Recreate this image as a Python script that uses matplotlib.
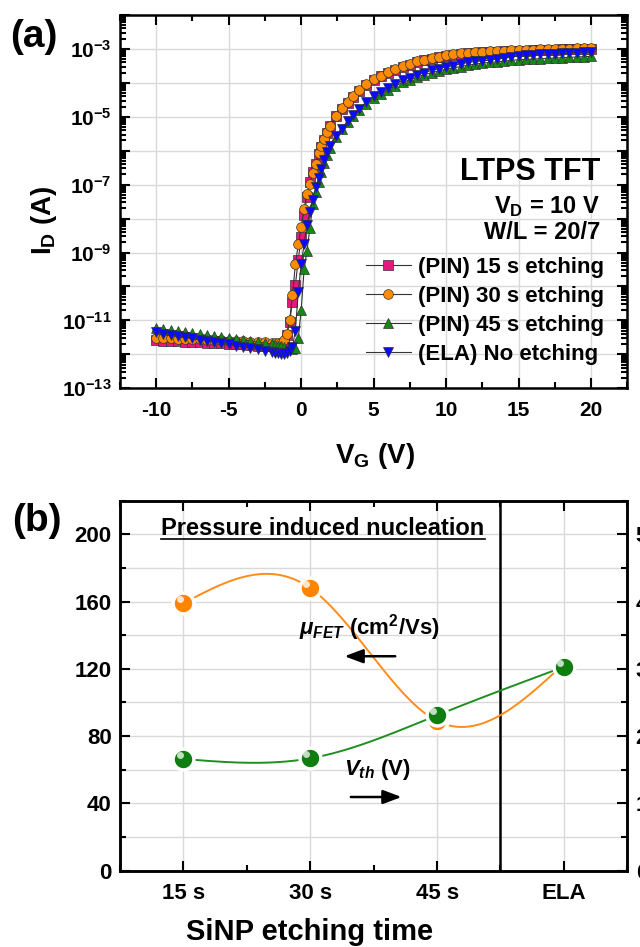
import numpy as np
import matplotlib
matplotlib.use('Agg')
import matplotlib.pyplot as plt
from matplotlib.ticker import LogLocator, FuncFormatter, MultipleLocator, NullFormatter
from matplotlib.transforms import ScaledTranslation, IdentityTransform
from matplotlib.lines import Line2D

plt.rcParams['font.family'] = ['Liberation Sans', 'DejaVu Sans']
plt.rcParams['font.weight'] = 'bold'
plt.rcParams['mathtext.fontset'] = 'custom'
plt.rcParams['mathtext.rm'] = 'Liberation Sans:bold'
plt.rcParams['mathtext.it'] = 'Liberation Sans:bold:italic'
plt.rcParams['mathtext.bf'] = 'Liberation Sans:bold'
plt.rcParams['mathtext.default'] = 'regular'
plt.rcParams['axes.unicode_minus'] = False

# ---- panel (a) : transfer curves, log10(I_D) ----
VG = [-10, -9.5, -9, -8.5, -8, -7.5, -7, -6.5, -6, -5.5, -5, -4.5, -4, -3.5, -3, -2.5, -2,
      -1.8, -1.6, -1.4, -1.2, -1.0, -0.8, -0.6, -0.4, -0.2, 0, 0.2, 0.4, 0.6, 0.8,
      1.0, 1.2, 1.4, 1.6, 1.8, 2.0,
      2.4, 2.8, 3.2, 3.6, 4.0,
      4.5, 5, 5.5, 6, 6.5, 7, 7.5, 8, 8.5, 9, 9.5, 10, 10.5, 11, 11.5, 12,
      12.5, 13, 13.5, 14, 14.5, 15, 15.5, 16, 16.5, 17, 17.5, 18, 18.5, 19, 19.5, 20]

logI_15s = [-11.59, -11.60, -11.61, -11.62, -11.63, -11.64, -11.65, -11.66, -11.67, -11.68,
            -11.69, -11.70, -11.71, -11.72, -11.74, -11.75, -11.76,
            -11.77, -11.78, -11.76, -11.66, -11.42, -11.05, -10.45, -9.95, -9.21, -8.54,
            -7.90, -7.36, -6.92, -6.62, -6.38, -6.10, -5.88, -5.68, -5.47, -5.28,
            -4.99, -4.77, -4.58, -4.42, -4.24,
            -4.06, -3.92, -3.81, -3.71, -3.62, -3.53, -3.46, -3.39, -3.34, -3.29, -3.25,
            -3.21, -3.18, -3.15, -3.13, -3.12, -3.10, -3.09, -3.08, -3.07, -3.06, -3.06,
            -3.05, -3.04, -3.03, -3.03, -3.02, -3.01, -3.01, -3.00, -3.00, -2.99]

logI_30s = [-11.51, -11.52, -11.53, -11.54, -11.55, -11.55, -11.56, -11.57, -11.58, -11.59,
            -11.60, -11.61, -11.62, -11.63, -11.64, -11.65, -11.66,
            -11.67, -11.68, -11.66, -11.58, -11.40, -11.00, -10.25, -9.35, -8.75, -8.25,
            -7.72, -7.27, -6.99, -6.66, -6.40, -6.08, -5.86, -5.66, -5.45, -5.26,
            -4.97, -4.75, -4.56, -4.40, -4.22,
            -4.04, -3.90, -3.79, -3.69, -3.60, -3.51, -3.44, -3.37, -3.32, -3.27, -3.23,
            -3.19, -3.16, -3.13, -3.11, -3.10, -3.08, -3.07, -3.06, -3.05, -3.04, -3.04,
            -3.03, -3.02, -3.01, -3.01, -3.00, -2.99, -2.99, -2.98, -2.98, -2.97]

logI_45s = [-11.23, -11.26, -11.29, -11.32, -11.35, -11.38, -11.41, -11.44, -11.47, -11.49,
            -11.52, -11.55, -11.58, -11.61, -11.64, -11.67, -11.70,
            -11.72, -11.74, -11.76, -11.78, -11.80, -11.82, -11.85, -11.82, -11.52, -10.70,
            -9.50, -8.95, -8.28, -7.58, -7.22, -6.93, -6.64, -6.37, -6.12, -5.91,
            -5.60, -5.37, -5.16, -4.98, -4.81,
            -4.62, -4.46, -4.33, -4.20, -4.09, -3.99, -3.91, -3.83, -3.76, -3.70, -3.65,
            -3.60, -3.56, -3.52, -3.48, -3.45, -3.42, -3.40, -3.38, -3.36, -3.34, -3.32,
            -3.31, -3.30, -3.29, -3.28, -3.27, -3.26, -3.25, -3.24, -3.23, -3.22]

logI_ela = [-11.35, -11.39, -11.42, -11.46, -11.49, -11.53, -11.57, -11.60, -11.64, -11.67,
            -11.71, -11.75, -11.78, -11.82, -11.85, -11.89, -11.93,
            -11.95, -11.97, -12.00, -12.00, -11.95, -11.90, -11.78, -11.30, -10.15, -9.35,
            -8.76, -8.18, -7.80, -7.45, -7.08, -6.81, -6.53, -6.26, -6.04, -5.85,
            -5.58, -5.35, -5.13, -4.95, -4.76,
            -4.57, -4.40, -4.27, -4.14, -4.03, -3.93, -3.85, -3.77, -3.70, -3.63, -3.58,
            -3.53, -3.49, -3.44, -3.40, -3.37, -3.35, -3.33, -3.30, -3.27, -3.24, -3.21,
            -3.19, -3.18, -3.16, -3.15, -3.14, -3.13, -3.12, -3.11, -3.10, -3.09]

series_labels = ['(PIN) 15 s etching', '(PIN) 30 s etching', '(PIN) 45 s etching', '(ELA) No etching']

# ---- panel (b) ----
categories = ['15 s', '30 s', '45 s', 'ELA']
mobility = [159, 168, 89, 123]      # cm2/Vs, left axis
vth = [1.66, 1.67, 2.31, 3.03]      # V, right axis


def natural_spline(x, y, num=300):
    # smooth connecting line through the points (natural cubic spline)
    x = np.asarray(x, float)
    y = np.asarray(y, float)
    n = len(x)
    h = np.diff(x)
    A = np.zeros((n, n))
    rhs = np.zeros(n)
    A[0, 0] = A[-1, -1] = 1
    for i in range(1, n - 1):
        A[i, i - 1] = h[i - 1]
        A[i, i] = 2 * (h[i - 1] + h[i])
        A[i, i + 1] = h[i]
        rhs[i] = 6 * ((y[i + 1] - y[i]) / h[i] - (y[i] - y[i - 1]) / h[i - 1])
    M = np.linalg.solve(A, rhs)
    xs = np.linspace(x[0], x[-1], num)
    idx = np.clip(np.searchsorted(x, xs) - 1, 0, n - 2)
    x0, x1 = x[idx], x[idx + 1]
    hh = x1 - x0
    a = (x1 - xs) / hh
    b = (xs - x0) / hh
    ys = a * y[idx] + b * y[idx + 1] + ((a**3 - a) * M[idx] + (b**3 - b) * M[idx + 1]) * hh**2 / 6
    return xs, ys


fig = plt.figure(figsize=(6.4, 9.47), dpi=100)

# ------------------------- (a) -------------------------
ax1 = fig.add_axes([0.1875, 0.590, 0.7927, 0.3942])
styles = [('s', '#e8177f'), ('o', '#ff8c00'), ('^', '#138a13'), ('v', '#0a0aff')]
for logI, (mk, col), lab in zip([logI_15s, logI_30s, logI_45s, logI_ela], styles, series_labels):
    ax1.plot(VG, 10 ** np.array(logI), '-', color='#333333', lw=0.8, marker=mk, ms=7,
             mfc=col, mec='#333333', mew=0.5, label=lab)

ax1.set_yscale('log')
ax1.set_xlim(-12.5, 22.5)
ax1.set_ylim(1e-13, 1e-2)
ax1.xaxis.set_major_locator(MultipleLocator(5))
ax1.xaxis.set_minor_locator(MultipleLocator(2.5))
ax1.yaxis.set_major_locator(LogLocator(base=10, numticks=30))
ax1.yaxis.set_minor_locator(LogLocator(base=10, subs=np.arange(2, 10), numticks=30))
ax1.yaxis.set_minor_formatter(NullFormatter())


def dec_fmt(v, pos):
    e = int(round(np.log10(v)))
    return r'$10^{%d}$' % e if e % 2 else ''


ax1.yaxis.set_major_formatter(FuncFormatter(dec_fmt))
ax1.grid(True, which='major', color='#d9d9d9', lw=1.0)
ax1.set_axisbelow(True)
ax1.tick_params(which='both', direction='in', top=True, right=True, width=1.5, labelsize=15)
ax1.tick_params(which='major', length=7)
ax1.tick_params(which='minor', length=4)
ax1.tick_params(axis='x', pad=9)
ax1.tick_params(axis='y', pad=6)
for sp in ax1.spines.values():
    sp.set_linewidth(1.8)

ax1.legend(loc='upper right', bbox_to_anchor=(0.955, 0.352), frameon=False, fontsize=16,
           handlelength=2.0, handletextpad=0.35, labelspacing=0.36, borderpad=0, borderaxespad=0)

ax1.text(0.946, 0.579, 'LTPS TFT', transform=ax1.transAxes, ha='right', va='center', fontsize=22)
ax1.text(0.946, 0.488, r'V$_D$ = 10 V', transform=ax1.transAxes, ha='right', va='center', fontsize=17)
ax1.text(0.946, 0.417, 'W/L = 20/7', transform=ax1.transAxes, ha='right', va='center', fontsize=17)

fig.text(0.053, 0.961, '(a)', ha='center', va='center', fontsize=28)
fig.text(0.069, 0.767, r'I$_D$ (A)', rotation=90, ha='center', va='center', fontsize=20)
fig.text(0.586, 0.511, r'V$_G$ (V)', ha='center', va='baseline', fontsize=20)

# ------------------------- (b) -------------------------
ax2 = fig.add_axes([0.1875, 0.0806, 0.7927, 0.3907])
xpos = np.arange(1, len(categories) + 1)
hl = ScaledTranslation(-2.8 / 72, 2.8 / 72, fig.dpi_scale_trans)

xs, ys = natural_spline(xpos, mobility)
ax2.plot(xs, ys, color='#ff8c1a', lw=1.4, zorder=3)
ax2.plot(xpos, mobility, 'o', ms=15, mfc='#ff8400', mec='white', mew=2.5, zorder=4)
ax2.plot(xpos, mobility, 'o', ms=5, mfc='white', mec='none', alpha=0.8, zorder=5,
         transform=ax2.transData + hl)

ax2.set_xlim(0.5, 4.5)
ax2.set_ylim(0, 220)
ax2.set_xticks(xpos)
ax2.set_xticklabels(categories)
ax2.xaxis.set_minor_locator(MultipleLocator(0.5))
ax2.yaxis.set_major_locator(MultipleLocator(40))
ax2.yaxis.set_minor_locator(MultipleLocator(20))
ax2.grid(True, axis='x', which='major', color='#d9d9d9', lw=1.0)
ax2.grid(True, axis='y', which='both', color='#d9d9d9', lw=1.0)
ax2.set_axisbelow(True)
ax2.tick_params(which='both', direction='in', top=True, right=False, width=1.5, labelsize=16)
ax2.tick_params(which='major', length=7)
ax2.tick_params(which='minor', length=4)
ax2.tick_params(axis='x', pad=9)
ax2.tick_params(axis='y', pad=6)
ax2.axvline(3.5, color='black', lw=1.8, zorder=2)

ax3 = ax2.twinx()
xs, ys = natural_spline(xpos, vth)
ax3.plot(xs, ys, color='#1f8f1f', lw=1.4, zorder=3)
ax3.plot(xpos, vth, 'o', ms=15, mfc='#0f7d0f', mec='white', mew=2.5, zorder=4)
ax3.plot(xpos, vth, 'o', ms=5, mfc='white', mec='none', alpha=0.75, zorder=5,
         transform=ax3.transData + hl)
ax3.set_ylim(0, 5.5)
ax3.yaxis.set_major_locator(MultipleLocator(1))
ax3.yaxis.set_minor_locator(MultipleLocator(0.5))
ax3.tick_params(which='both', direction='in', width=1.5, labelsize=16, pad=6)
ax3.tick_params(which='major', length=7)
ax3.tick_params(which='minor', length=4)
for a in (ax2, ax3):
    for sp in a.spines.values():
        sp.set_linewidth(1.8)

title = ax2.text(2.1, 203.5, 'Pressure induced nucleation', ha='center', va='center', fontsize=17)
ax2.text(2.47, 144.6, r'$\mathit{\mu}_{\mathit{FET}}$ (cm$^{2}$/Vs)', ha='center', va='center', fontsize=16)
ax2.text(2.53, 60.4, r'$\mathit{V}_{\mathit{th}}$ (V)', ha='center', va='center', fontsize=16)
arrow = dict(arrowstyle='-|>,head_length=0.8,head_width=0.3', color='black', lw=1.8,
             shrinkA=0, shrinkB=0, mutation_scale=14)
ax2.annotate('', xy=(2.27, 127.5), xytext=(2.67, 127.5), arrowprops=arrow)
ax2.annotate('', xy=(2.72, 43.8), xytext=(2.32, 43.8), arrowprops=arrow)

fig.text(0.058, 0.450, '(b)', ha='center', va='center', fontsize=28)
fig.text(0.483, 0.0074, 'SiNP etching time', ha='center', va='baseline', fontsize=21)

# underline the panel title
fig.canvas.draw()
bb = title.get_window_extent()
fig.add_artist(Line2D([bb.x0, bb.x1], [bb.y0 + 1, bb.y0 + 1], transform=IdentityTransform(),
                      color='black', lw=1.2))

fig.savefig('out.png', dpi=100)
